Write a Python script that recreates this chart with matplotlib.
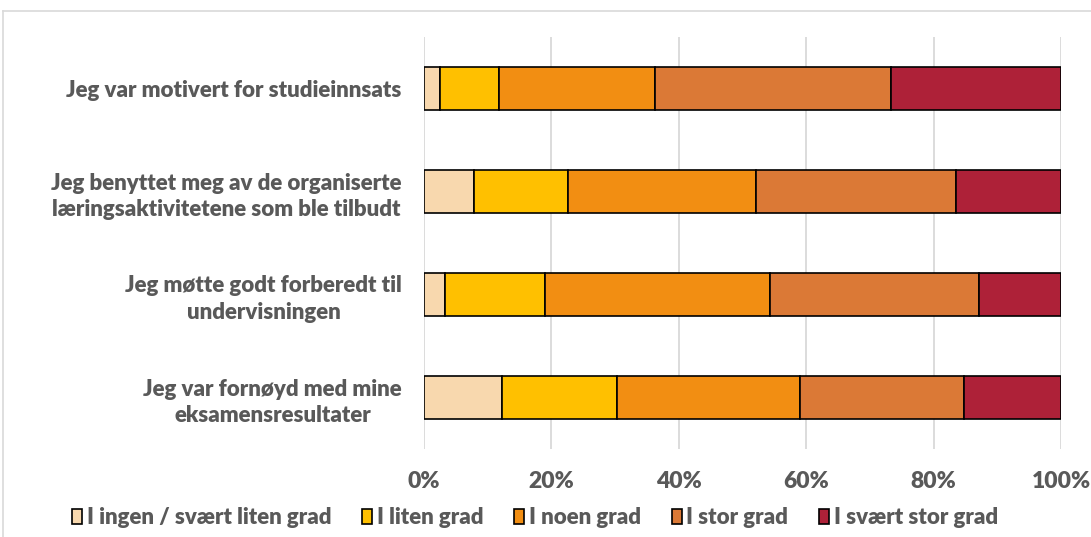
import matplotlib
matplotlib.use("Agg")
import matplotlib.pyplot as plt
from matplotlib.lines import Line2D
from matplotlib.patches import Patch
import numpy as np

categories = [
    "Jeg var motivert for studieinnsats",
    "Jeg benyttet meg av de organiserte\nlæringsaktivitetene som ble tilbudt",
    "Jeg møtte godt forberedt til\nundervisningen",
    "Jeg var fornøyd med mine\neksamensresultater",
]
series_names = ["I ingen / svært liten grad", "I liten grad", "I noen grad", "I stor grad", "I svært stor grad"]
values = {
    "I ingen / svært liten grad": [2.5, 7.8, 3.3, 12.2],
    "I liten grad": [9.3, 14.8, 15.7, 18.1],
    "I noen grad": [24.5, 29.5, 35.3, 28.7],
    "I stor grad": [37.0, 31.4, 32.8, 25.8],
    "I svært stor grad": [26.7, 16.5, 12.9, 15.2],
}
colors = ["#F8D8AE", "#FFC000", "#F28E12", "#DB7936", "#AE2138"]
xticks = [0, 20, 40, 60, 80, 100]

plt.rcParams['font.family'] = ['Lato', 'DejaVu Sans']
grey = "#595959"
fs = 16
wt = 800

fig = plt.figure(figsize=(10.91, 5.37), dpi=100)
ax = fig.add_axes([424/1091, 1-449/537, (1061-424)/1091, 412/537])

y = np.arange(len(categories))
left = np.zeros(len(categories))
for name, c in zip(series_names, colors):
    v = np.array(values[name])
    ax.barh(y, v, left=left, height=0.41, color=c, edgecolor="black", linewidth=1.2, zorder=3)
    left += v

ax.set_xlim(0, 100)
ax.set_ylim(3.5, -0.5)
ax.set_xticks(xticks)
ax.set_xticklabels([f"{t}%" for t in xticks], fontsize=16.5, fontweight=wt, color=grey)
ax.set_yticks(y)
ax.set_yticklabels(categories, fontsize=fs, fontweight=wt, color=grey,
                   multialignment="center", linespacing=1.3)
ax.tick_params(axis="both", length=0)
ax.tick_params(axis="x", pad=16)
ax.tick_params(axis="y", pad=16)
for s in ax.spines.values():
    s.set_visible(False)
ax.grid(axis="x", color="#D9D9D9", linewidth=1.3, zorder=0)
ax.set_axisbelow(True)

handles = [Patch(facecolor=c, edgecolor="black", linewidth=1.2) for c in colors]
leg = fig.legend(handles, series_names, loc="center", bbox_to_anchor=(535/1091, 1-518/537),
                 ncol=5, frameon=False, handletextpad=0.2, columnspacing=1.4,
                 handlelength=0.45, handleheight=0.65,
                 prop={"weight": wt, "size": fs})
for t in leg.get_texts():
    t.set_color(grey)

# chart frame
fig.add_artist(Line2D([3/1091, 1], [1-11/537, 1-11/537], color="#D9D9D9", linewidth=1.2, transform=fig.transFigure))
fig.add_artist(Line2D([3/1091, 3/1091], [0, 1-11/537], color="#D9D9D9", linewidth=1.2, transform=fig.transFigure))

fig.savefig("out.png", dpi=100)
